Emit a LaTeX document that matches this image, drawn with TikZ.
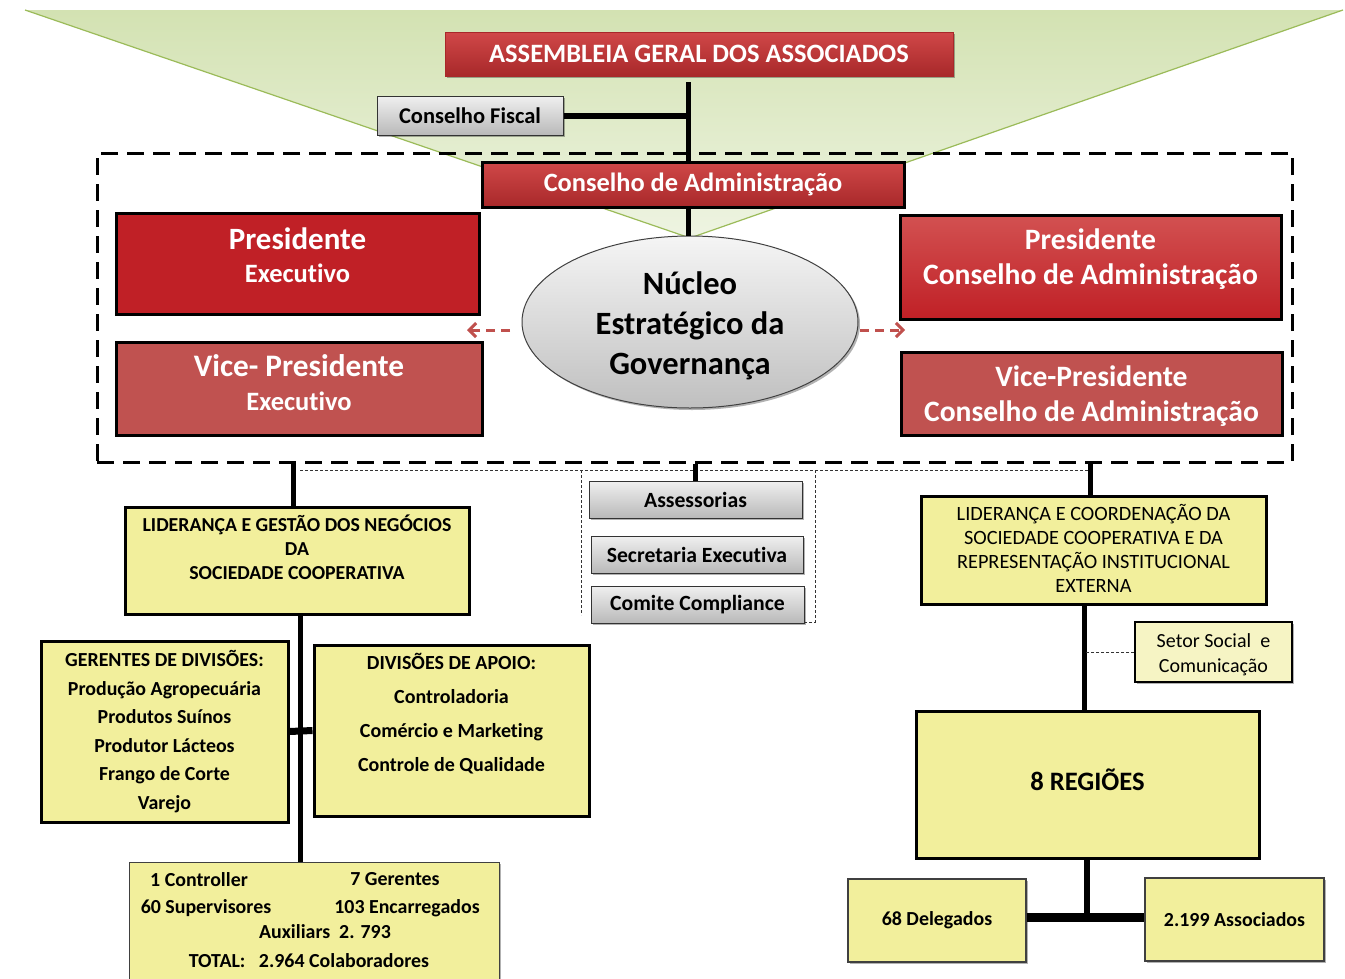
\documentclass[tikz,border=0pt]{standalone}
\usepackage{fontspec}
\setmainfont{Carlito}[Ligatures=NoCommon]
\usetikzlibrary{shapes.geometric,shadows,arrows.meta}
\definecolor{grA}{RGB}{211,226,178}
\definecolor{grB}{RGB}{238,244,226}
\definecolor{grL}{RGB}{155,187,89}
\definecolor{redT}{RGB}{208,72,72}
\definecolor{redB}{RGB}{168,40,42}
\definecolor{redD}{RGB}{192,32,38}
\definecolor{redL}{RGB}{192,82,80}
\definecolor{yel}{RGB}{242,239,156}
\definecolor{yelL}{RGB}{246,244,196}
\definecolor{arrR}{RGB}{192,80,77}
\newcommand\fsz[2]{\fontsize{#1}{#2}\selectfont}
\tikzset{
  shad/.style={drop shadow={shadow xshift=2pt,shadow yshift=-2pt,opacity=0.3,fill=black}},
  redgrad/.style={top color=redT,bottom color=redB,draw=redB,line width=0.8pt,text=white,shad,font=\bfseries},
  redgradk/.style={top color=redT,bottom color=redB,draw=black,line width=3pt,text=white,shad,font=\bfseries},
  redbox/.style={fill=redD,draw=black,line width=3pt,shad},
  redlbox/.style={fill=redL,draw=black,line width=3pt,shad},
  greybox/.style={top color=gray!12,bottom color=gray!55,draw=black!80,line width=1pt,shad,font=\bfseries\fsz{21.7}{26}},
  yelbox/.style={fill=yel,draw=black,line width=3pt,shad,align=center},
  yelthin/.style={fill=yel,draw=black!75,line width=1pt,shad,align=center},
  conn/.style={line width=5pt,draw=black},
  darr/.style={draw=arrR,line width=3pt,dash pattern=on 9pt off 6pt,-{Straight Barb[length=7pt,width=14pt]}},
  thindash/.style={draw=black!80,line width=0.8pt,dash pattern=on 3pt off 2pt},
  txt/.style={inner sep=0pt,font=\bfseries},
  wtxt/.style={inner sep=0pt,align=center,text=white,font=\bfseries},
  btxt/.style={inner sep=0pt,align=center},
}
\begin{document}
\begin{tikzpicture}[x=1pt,y=-1pt]
\clip (0,0) rectangle (1345,978);
\fill[white] (0,0) rectangle (1345,978);
% green triangle
\shade[top color=grA,bottom color=grB] (25,10) -- (1343,10) -- (690,238) -- cycle;
\draw[grL,line width=1.2pt] (25,10) -- (690,238) -- (1343,10);

% governance dashed box
\node[draw=black,line width=3pt,dash pattern=on 17pt off 9pt,minimum width=1195pt,minimum height=309pt,inner sep=0pt] (gov) at (694.5,307.5) {};

% top
\node[redgrad,minimum width=508pt,minimum height=44pt,font=\bfseries\fsz{26.5}{30}] (asm) at (699,54) {ASSEMBLEIA GERAL DOS ASSOCIADOS};
\node[greybox,font=\bfseries\fsz{22.5}{26},minimum width=186pt,minimum height=39pt] (fiscal) at (470,115.5) {Conselho Fiscal};
\node[redgradk,minimum width=422pt,minimum height=45pt,font=\bfseries\fsz{26.4}{30}] (cadm) at (693,184.5) {Conselho de Administração};

\node[ellipse,top color=gray!8,bottom color=gray!50,draw=black!75,line width=1pt,minimum width=336pt,minimum height=172pt,inner sep=0pt,shad] (nuc) at (690,322) {};
\node[btxt,font=\bfseries\fsz{32.5}{40}] (nuct) at (690,325.5) {Núcleo\\Estratégico da\\Governança};

\node[redbox,minimum width=363pt,minimum height=101pt] (presex) at (297.5,263.5) {};
\node[wtxt,font=\bfseries\fsz{26.5}{33}] (presext) at (297.5,255.5) {{\fsz{31}{33}Presidente}\\Executivo};
\node[redlbox,minimum width=366pt,minimum height=93pt] (viceex) at (299,388.5) {};
\node[wtxt,font=\bfseries\fsz{26.5}{34}] (viceext) at (299,383) {{\fsz{31.3}{34}Vice- Presidente}\\Executivo};
\node[redgradk,top color=redT!95,bottom color=redD,minimum width=381pt,minimum height=104pt] (presca) at (1090.5,267) {};
\node[wtxt,font=\bfseries\fsz{29.6}{35}] (prescat) at (1090.5,259) {Presidente\\Conselho de Administração};
\node[redlbox,minimum width=381pt,minimum height=83pt] (viceca) at (1091.5,393.5) {};
\node[wtxt,font=\bfseries\fsz{29.6}{35}] (vicecat) at (1091.5,396.5) {Vice-Presidente\\Conselho de Administração};

% connectors top
\coordinate (vx) at (688,0);
\draw[conn] (asm.south -| vx) ++(0,6) -- (cadm.north -| vx);
\draw[conn,line width=6pt] (fiscal.east) -- (fiscal.east -| vx);
\draw[conn] (cadm.south -| vx) -- (nuc.north -| vx);
\coordinate (al1) at (510,330);
\coordinate (al2) at (467,330);
\coordinate (ar1) at (860,330);
\coordinate (ar2) at (905,330);
\draw[darr] (al1) -- (al2);
\draw[darr] (ar1) -- (ar2);

% grey staff boxes
\node[greybox,minimum width=213pt,minimum height=37pt] (assess) at (695.5,499.5) {Assessorias};
\node[greybox,minimum width=212pt,minimum height=37pt] (secret) at (697,554.5) {Secretaria Executiva};
\node[greybox,minimum width=213pt,minimum height=37pt] (comite) at (697.5,604.5) {Comite Compliance};
\coordinate (dl) at (300,470);
\coordinate (dr) at (1088,470);
\draw[thindash] (dl) -- (dr);
\draw[thindash] (581,470) -- (581,615);
\draw[thindash] (815,470) -- (815,622) -- (805,622);

% left branch
\node[yelbox,minimum width=344pt,minimum height=107pt] (lidL) at (297,560.5) {};
\node[txt,anchor=north,align=center,font=\bfseries\fsz{19.8}{24}] (lidLt) at ([yshift=-9pt]lidL.north) {LIDERANÇA E GESTÃO DOS NEGÓCIOS\\DA\\SOCIEDADE COOPERATIVA};
\draw[conn] (gov.south -| 293,0) -- (lidL.north -| 293,0);

\node[yelbox,minimum width=247pt,minimum height=181pt,font=\bfseries\fsz{19.9}{28.6}] (ger) at (164.5,731.5) {GERENTES DE DIVISÕES:\\Produção Agropecuária\\Produtos Suínos\\Produtor Lácteos\\Frango de Corte\\Varejo};
\node[yelbox,minimum width=275pt,minimum height=171pt] (apoio) at (451.5,730.5) {};
\node[txt,anchor=north,align=center,font=\bfseries\fsz{20}{34}] (apoiot) at ([yshift=-9.5pt]apoio.north) {DIVISÕES DE APOIO:\\Controladoria\\Comércio e Marketing\\Controle de Qualidade};

\node[yelthin,minimum width=370pt,minimum height=130pt] (bot) at (314,927) {};
\coordinate (lx) at (300,0);
\draw[conn] (lidL.south -| lx) -- (bot.north -| lx);
\draw[conn,line width=7pt] (ger.east) -- (apoio.west);
\node[txt,font=\bfseries\fsz{19.9}{24}] (b1) at (199,879.5) {1 Controller};
\node[txt,font=\bfseries\fsz{19.9}{24}] (b2) at (395,879.5) {7 Gerentes};
\node[txt,font=\bfseries\fsz{19.9}{24}] (b3) at (206,908.5) {60 Supervisores};
\node[txt,font=\bfseries\fsz{19.9}{24}] (b4) at (407,908.5) {103 Encarregados};
\node[txt,font=\bfseries\fsz{19.9}{24}] (b5) at (325,931.5) {Auxiliars\ \ 2. 793};
\node[txt,font=\bfseries\fsz{19.9}{24}] (b6) at (309,960.5) {TOTAL:\ \ \ 2.964 Colaboradores};

% staff connector
\draw[conn] (gov.south -| assess.north) -- (assess.north);

% right branch
\node[yelbox,minimum width=345pt,minimum height=108pt] (lidR) at (1093.5,550) {};
\node[btxt,font=\fsz{20.3}{24}] (lidRt) at (1093.5,548) {LIDERANÇA E COORDENAÇÃO DA\\SOCIEDADE COOPERATIVA E DA\\REPRESENTAÇÃO INSTITUCIONAL\\EXTERNA};
\coordinate (rx) at (1090,0);
\draw[conn] (gov.south -| rx) -- (lidR.north -| rx);
\node[yelbox,fill=yelL,line width=2pt,minimum width=157pt,minimum height=60pt] (setor) at (1213.5,652) {};
\node[btxt,font=\fsz{20}{25}] (setort) at (1213.5,655) {Setor Social\ \ e\\Comunicação};
\node[yelbox,minimum width=343pt,minimum height=147pt] (reg) at (1087.5,784.5) {};
\node[btxt,font=\bfseries\fsz{26.6}{30}] (regt) at (1087.5,779.5) {8 REGIÕES};
\coordinate (rx2) at (1084,0);
\draw[conn] (lidR.south -| rx2) -- (reg.north -| rx2);
\draw[thindash] (setor.west) -- (setor.west -| rx2);
\node[yelthin,line width=1.2pt,minimum width=178pt,minimum height=83pt,font=\bfseries\fsz{19.9}{24}] (deleg) at (937,920.5) {68 Delegados};
\node[yelthin,line width=1.2pt,minimum width=179pt,minimum height=83pt,font=\bfseries\fsz{19.9}{24}] (assoc) at (1234.5,919.5) {2.199 Associados};
\coordinate (jn) at (1087,917);
\draw[conn,line width=6pt] (reg.south -| jn) -- (jn);
\draw[conn,line width=9pt] (deleg.east |- jn) -- (assoc.west |- jn);
\end{tikzpicture}
\end{document}
